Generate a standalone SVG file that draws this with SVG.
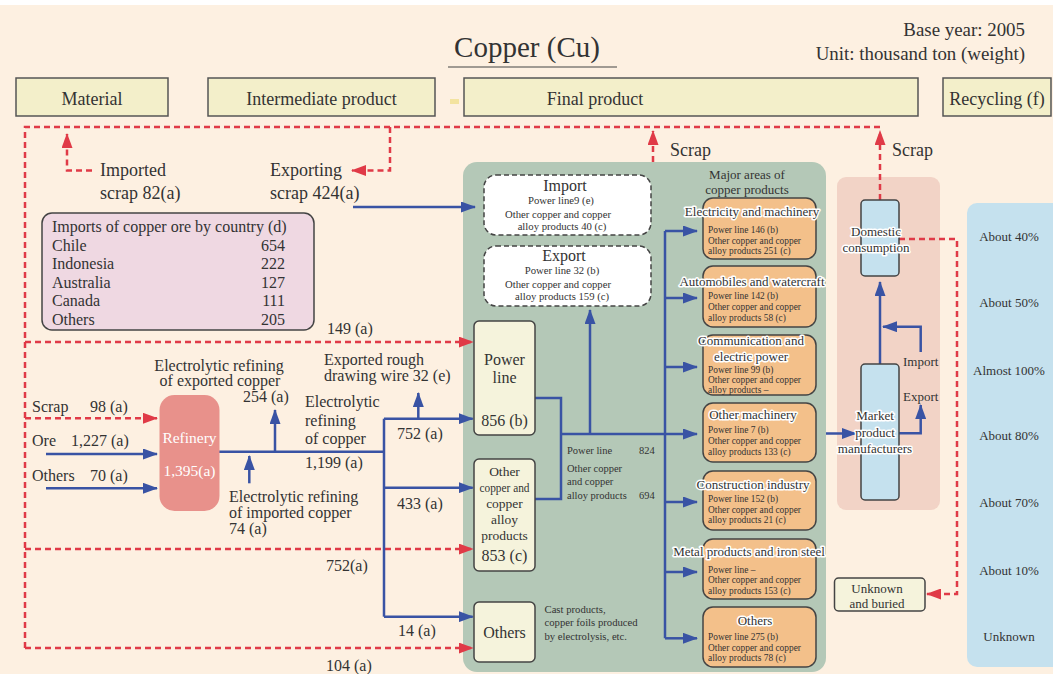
<svg xmlns="http://www.w3.org/2000/svg" width="1053" height="674" viewBox="0 0 1053 674">
<defs>
<marker id="ab" markerUnits="userSpaceOnUse" markerWidth="15" markerHeight="11" refX="14" refY="5.5" orient="auto"><path d="M0,0 L15,5.5 L0,11 z" fill="#3953a4"/></marker>
<marker id="ar" markerUnits="userSpaceOnUse" markerWidth="15" markerHeight="11" refX="14" refY="5.5" orient="auto"><path d="M0,0 L15,5.5 L0,11 z" fill="#e03a47"/></marker>
</defs>
<style>
text{font-family:"Liberation Serif","DejaVu Serif",serif;fill:#333}
.b{fill:none;stroke:#3953a4;stroke-width:2.5}
.ba{fill:none;stroke:#3953a4;stroke-width:2.5;marker-end:url(#ab)}
.r{fill:none;stroke:#e03a47;stroke-width:2.5;stroke-dasharray:6,4}
.ra{fill:none;stroke:#e03a47;stroke-width:2.5;stroke-dasharray:6,4;marker-end:url(#ar)}
.hdr{fill:#f3efca;stroke:#555;stroke-width:1.5}
.cb{fill:#f5f3dc;stroke:#444;stroke-width:1.5}
.ob{fill:#f3c08a;stroke:#444;stroke-width:1.5}
.db{fill:#fff;stroke:#444;stroke-width:1.5;stroke-dasharray:5,3}
.lb{fill:#c5e1ee;stroke:#444;stroke-width:1.5}
.m{text-anchor:middle}
.e{text-anchor:end}
.f18{font-size:18px}
.f16{font-size:16px}
.f13{font-size:13px}
.f11{font-size:10.7px}
.f10{font-size:10.5px}
.f9{font-size:9.4px}
.halo{paint-order:stroke;stroke:#fff;stroke-width:3px;stroke-linejoin:round}
</style>
<rect x="0" y="0" width="1053" height="674" fill="#fff"/>
<rect x="0" y="5" width="1053" height="669" fill="#fdf0e1"/>

<g id="title">
<text x="527" y="57" class="m" font-size="29">Copper (Cu)</text>
<line x1="448" y1="67" x2="617" y2="67" stroke="#444" stroke-width="1.2"/>
<text x="1025" y="36" class="e" font-size="18.9">Base year: 2005</text>
<text x="1025" y="60" class="e" font-size="18.9">Unit: thousand ton (weight)</text>
</g>

<g id="headers">
<g id="h-material"><rect x="16" y="78" width="152" height="38" class="hdr"/><text x="92" y="105" class="m f18">Material</text></g>
<g id="h-intermediate"><rect x="208" y="78" width="227" height="38" class="hdr"/><text x="321.5" y="105" class="m f18">Intermediate product</text></g>
<rect x="450" y="99" width="9" height="5" fill="#f3e3a0"/>
<g id="h-final"><rect x="464" y="78" width="454" height="38" class="hdr"/><text x="595" y="105" class="m f18">Final product</text></g>
<g id="h-recycling"><rect x="943" y="78" width="108" height="38" class="hdr"/><text x="997" y="105" class="m f18">Recycling (f)</text></g>
</g>

<g id="regions">
<rect x="463" y="162" width="363" height="510" rx="14" fill="#b4c8b7"/>
<rect x="837" y="177" width="103" height="333" rx="9" fill="#f2d3c6"/>
<rect x="967" y="203" width="100" height="464" rx="10" fill="#c5e1ee"/>
</g>

<g id="connectors">
<path d="M880,127 H25 V648" class="r"/>
<path d="M92,170.5 H67 V134" class="ra"/>
<path d="M390,127 V170.5 H352" class="ra"/>
<path d="M653,162 V131" class="ra"/>
<path d="M880,200 V131" class="ra"/>
<path d="M25,342 H472.7" class="ra"/>
<path d="M25,418.3 H157" class="ra"/>
<path d="M25,549 H472.7" class="ra"/>
<path d="M25,648 H472.7" class="ra"/>
<path d="M899,239 H957 V594 H927" class="ra"/>

<path d="M353,207 H475" class="ba"/>
<path d="M46,454 H157" class="ba"/>
<path d="M46,488.3 H157" class="ba"/>
<path d="M219,451.7 H384" class="b"/>
<path d="M275,451.7 V410" class="ba"/>
<path d="M249.3,483.3 V456" class="ba"/>
<path d="M384,418.7 V616.7" class="b"/>
<path d="M384,418.7 H472.7" class="ba"/>
<path d="M418.3,418.7 V393" class="ba"/>
<path d="M384,487.7 H472.7" class="ba"/>
<path d="M384,616.7 H472.7" class="ba"/>
<path d="M535,398 H561 V434" class="b"/>
<path d="M535,499 H561 V434" class="b"/>
<path d="M561,434 H697" class="ba"/>
<path d="M590,434 V310" class="ba"/>
<path d="M665,231 V638.3" class="b"/>
<path d="M665,231 H697" class="ba"/>
<path d="M665,298 H697" class="ba"/>
<path d="M665,367 H697" class="ba"/>
<path d="M665,502 H697" class="ba"/>
<path d="M665,572 H697" class="ba"/>
<path d="M665,638.3 H697" class="ba"/>
<path d="M826,433.5 H856" class="ba"/>
<path d="M880,364 V282" class="ba"/>
<path d="M920.7,352 V326.7 H883" class="ba"/>
<path d="M899,433.3 H920.7 V405" class="ba"/>
</g>

<g id="labels">
<text x="100" y="176" class="f18">Imported</text>
<text x="100" y="199" class="f18">scrap 82(a)</text>
<text x="270" y="176" class="f18">Exporting</text>
<text x="270" y="199" class="f18">scrap 424(a)</text>
<text x="670" y="156" class="f18">Scrap</text>
<text x="892" y="156" class="f18">Scrap</text>
<text x="327" y="334" class="f16">149 (a)</text>
<text x="219" y="370.5" class="m f16">Electrolytic refining</text>
<text x="220" y="385.5" class="m f16">of exported copper</text>
<text x="243" y="401.5" class="f16">254 (a)</text>
<text x="324" y="365" class="f16">Exported rough</text>
<text x="324" y="381" class="f16">drawing wire 32 (e)</text>
<text x="32" y="412" class="f16">Scrap</text>
<text x="90" y="412" class="f16">98 (a)</text>
<text x="32" y="446" class="f16">Ore</text>
<text x="71" y="446" class="f16">1,227 (a)</text>
<text x="32" y="480.5" class="f16">Others</text>
<text x="90" y="480.5" class="f16">70 (a)</text>
<text x="305" y="407" class="f16">Electrolytic</text>
<text x="305" y="425.5" class="f16">refining</text>
<text x="305" y="444" class="f16">of copper</text>
<text x="305" y="468" class="f16">1,199 (a)</text>
<text x="229" y="501.5" class="f16">Electrolytic refining</text>
<text x="229" y="518" class="f16">of imported copper</text>
<text x="229" y="534" class="f16">74 (a)</text>
<text x="397" y="439" class="f16">752 (a)</text>
<text x="397" y="509" class="f16">433 (a)</text>
<text x="326" y="570.5" class="f16">752(a)</text>
<text x="398" y="635.5" class="f16">14 (a)</text>
<text x="326" y="670.5" class="f16">104 (a)</text>
<text x="567" y="453.5" class="f10">Power line</text>
<text x="639" y="453.5" class="f10">824</text>
<text x="567" y="471.5" class="f10">Other copper</text>
<text x="567" y="485" class="f10">and copper</text>
<text x="567" y="498.5" class="f10">alloy products</text>
<text x="639" y="498.5" class="f10">694</text>
<text x="544.5" y="613" class="f11">Cast products,</text>
<text x="544.5" y="625.5" class="f11">copper foils produced</text>
<text x="544.5" y="640" class="f11">by electrolysis, etc.</text>
<text x="747" y="178.5" class="m f13">Major areas of</text>
<text x="747" y="193.5" class="m f13">copper products</text>
<text x="903" y="366" class="f13">Import</text>
<text x="903" y="400.5" class="f13">Export</text>
</g>

<g id="imports-by-country">
<rect x="42" y="213" width="272" height="117" rx="10" fill="#efd8e2" stroke="#444" stroke-width="1.5"/>
<text x="52" y="232" class="f16">Imports of copper ore by country (d)</text>
<text x="52" y="251" class="f16">Chile</text><text x="285" y="251" class="e f16">654</text>
<text x="52" y="269" class="f16">Indonesia</text><text x="285" y="269" class="e f16">222</text>
<text x="52" y="287.5" class="f16">Australia</text><text x="285" y="287.5" class="e f16">127</text>
<text x="52" y="306" class="f16">Canada</text><text x="285" y="306" class="e f16">111</text>
<text x="52" y="324.5" class="f16">Others</text><text x="285" y="324.5" class="e f16">205</text>
</g>

<g id="refinery">
<rect x="159.5" y="395" width="60" height="116" rx="15" fill="#e8918b"/>
<text x="189.5" y="442.5" class="m" font-size="15.5" style="fill:#fff">Refinery</text>
<text x="189.5" y="475.5" class="m" font-size="15.5" style="fill:#fff">1,395(a)</text>
</g>

<g id="import">
<rect x="484" y="175" width="167" height="60" rx="12" class="db"/>
<text x="565" y="190.5" class="m f16">Import</text>
<text x="561" y="203.5" class="m f11">Power line9 (e)</text>
<text x="558" y="217.5" class="m f11">Other copper and copper</text>
<text x="562" y="230" class="m f11">alloy products  40 (c)</text>
</g>
<g id="export">
<rect x="484" y="246" width="167" height="60" rx="12" class="db"/>
<text x="564" y="261" class="m f16">Export</text>
<text x="562" y="274" class="m f11">Power line 32 (b)</text>
<text x="558" y="287.5" class="m f11">Other copper and copper</text>
<text x="562" y="300" class="m f11">alloy products  159 (c)</text>
</g>

<g id="power-line">
<rect x="474" y="321" width="61" height="114" rx="5" class="cb"/>
<text x="504.5" y="365" class="m f16">Power</text>
<text x="504.5" y="383" class="m f16">line</text>
<text x="504.5" y="425.5" class="m f16">856 (b)</text>
</g>
<g id="other-copper">
<rect x="474" y="459" width="61" height="112" rx="5" class="cb"/>
<text x="504.5" y="476" class="m" font-size="13.5">Other</text>
<text x="504.5" y="492" class="m" font-size="13.5" textLength="50" lengthAdjust="spacingAndGlyphs">copper and</text>
<text x="504.5" y="508" class="m" font-size="13.5">copper</text>
<text x="504.5" y="524" class="m" font-size="13.5">alloy</text>
<text x="504.5" y="540" class="m" font-size="13.5">products</text>
<text x="504.5" y="560.5" class="m f16">853 (c)</text>
</g>
<g id="others-inter">
<rect x="474" y="602" width="61" height="60" rx="5" class="cb"/>
<text x="504.5" y="638" class="m f16">Others</text>
</g>

<g id="electricity">
<rect x="703" y="198" width="113" height="61" rx="10" class="ob"/>
<text x="752" y="216" class="m f13 halo">Electricity and machinery</text>
<text x="708" y="233" class="f9">Power line  146 (b)</text>
<text x="708" y="243.5" class="f9">Other copper and copper</text>
<text x="708" y="254" class="f9">alloy products  251 (c)</text>
</g>
<g id="automobiles">
<rect x="703" y="266" width="113" height="61" rx="10" class="ob"/>
<text x="752" y="286" class="m f13 halo">Automobiles and watercraft</text>
<text x="708" y="299" class="f9">Power line  142 (b)</text>
<text x="708" y="310" class="f9">Other copper and copper</text>
<text x="708" y="320.5" class="f9">alloy products  58 (c)</text>
</g>
<g id="communication">
<rect x="703" y="335" width="113" height="60" rx="10" class="ob"/>
<text x="751" y="344.5" class="m f13 halo">Communication and</text>
<text x="751" y="361" class="m f13 halo">electric power</text>
<text x="708" y="372.5" class="f9">Power line  99 (b)</text>
<text x="708" y="382.5" class="f9">Other copper and copper</text>
<text x="708" y="393" class="f9">alloy products  –</text>
</g>
<g id="other-machinery">
<rect x="703" y="403" width="113" height="59" rx="10" class="ob"/>
<text x="753" y="418.5" class="m f13 halo">Other machinery</text>
<text x="708" y="433" class="f9">Power line  7 (b)</text>
<text x="708" y="444" class="f9">Other copper and copper</text>
<text x="708" y="455" class="f9">alloy products  133 (c)</text>
</g>
<g id="construction">
<rect x="703" y="471" width="113" height="59" rx="10" class="ob"/>
<text x="753" y="488.5" class="m f13 halo">Construction industry</text>
<text x="708" y="501.5" class="f9">Power line  152 (b)</text>
<text x="708" y="512.5" class="f9">Other copper and copper</text>
<text x="708" y="523" class="f9">alloy products  21 (c)</text>
</g>
<g id="metal">
<rect x="703" y="539" width="113" height="60" rx="10" class="ob"/>
<text x="749" y="556" class="m f13 halo">Metal products and iron steel</text>
<text x="708" y="572.5" class="f9">Power line  –</text>
<text x="708" y="583" class="f9">Other copper and copper</text>
<text x="708" y="593.5" class="f9">alloy products  153 (c)</text>
</g>
<g id="others-final">
<rect x="703" y="607" width="113" height="60" rx="10" class="ob"/>
<text x="755" y="624.5" class="m f13 halo">Others</text>
<text x="708" y="639.5" class="f9">Power line  275 (b)</text>
<text x="708" y="650.5" class="f9">Other copper and copper</text>
<text x="708" y="661" class="f9">alloy products  78 (c)</text>
</g>

<g id="domestic">
<rect x="861" y="200" width="38" height="76" rx="4" class="lb"/>
<text x="876" y="235.5" class="m f13 halo">Domestic</text>
<text x="876" y="251.5" class="m f13 halo">consumption</text>
</g>
<g id="market">
<rect x="861" y="364" width="38" height="136" rx="4" class="lb"/>
<text x="875" y="420" class="m f13 halo">Market</text>
<text x="875" y="436.5" class="m f13 halo">product</text>
<text x="875" y="452.5" class="m f13 halo">manufacturers</text>
</g>
<g id="unknown-buried">
<rect x="834.5" y="578" width="90.5" height="33" rx="4" class="cb"/>
<text x="877" y="592.5" class="m f13">Unknown</text>
<text x="877" y="607.5" class="m f13">and buried</text>
</g>

<g id="recycling-rates">
<text x="1009" y="240.5" class="m f13">About 40%</text>
<text x="1009" y="307" class="m f13">About 50%</text>
<text x="1009" y="374.5" class="m f13">Almost 100%</text>
<text x="1009" y="440" class="m f13">About 80%</text>
<text x="1009" y="507" class="m f13">About 70%</text>
<text x="1009" y="574.5" class="m f13">About 10%</text>
<text x="1009" y="640.5" class="m f13">Unknown</text>
</g>
</svg>
